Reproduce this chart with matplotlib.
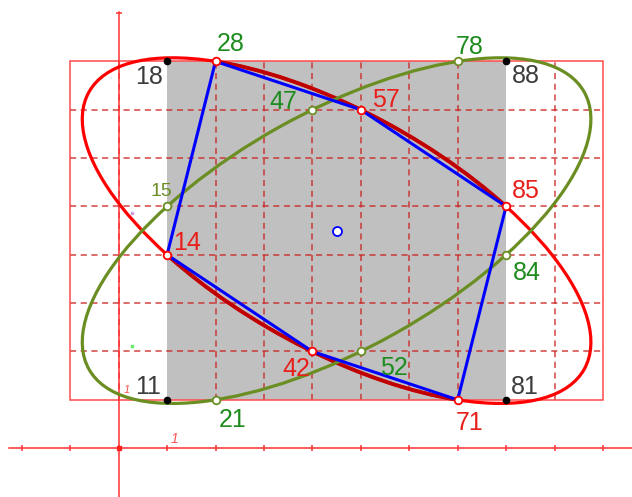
import numpy as np
import matplotlib
matplotlib.use("Agg")
import matplotlib.pyplot as plt
from matplotlib.patches import Rectangle, Ellipse, Arc

# points of the red conic (name, x, y)
red_names = ["28", "57", "85", "71", "42", "14"]
red_x = [2, 5, 8, 7, 4, 1]
red_y = [8, 7, 5, 1, 2, 4]

# points of the green conic
green_names = ["78", "47", "15", "21", "52", "84"]
green_x = [7, 4, 1, 2, 5, 8]
green_y = [8, 7, 5, 1, 2, 4]

# corner points of the grey square
corner_names = ["18", "88", "11", "81"]
corner_x = [1, 8, 1, 8]
corner_y = [8, 8, 1, 1]

# blue hexagon, order of the vertices
hexagon = ["28", "57", "85", "71", "42", "14", "28"]

# label offsets in pixels (dx, dy) and colours
label_off = {
    "18": (-18, -23), "28": (15, 10), "47": (-29, 1), "57": (25, 3),
    "78": (12, 7), "88": (20, -22), "15": (-6, 10), "14": (20, 5),
    "85": (20, 8), "84": (21, -25), "11": (-19, 6), "21": (17, -27),
    "42": (-16, -25), "52": (33, -24), "81": (19, 6), "71": (12, -30),
}
label_col = {n: "#e8201c" for n in red_names}
label_col.update({n: "#1e8c1e" for n in green_names})
label_col.update({n: "#3c3c3c" for n in corner_names})
label_col["28"] = "#1e8c1e"
label_col["15"] = "#6b8e23"

plt.rcParams["font.family"] = ["Liberation Sans", "DejaVu Sans"]

fig = plt.figure(figsize=(6.32, 4.97), dpi=100)
ax = fig.add_axes([0, 0, 1, 1])
ax.set_xlim(-2.45, 10.6)
ax.set_ylim(-1.01, 9.27)
ax.axis("off")

# grey square and grid
ax.add_patch(Rectangle((1, 1), 7, 7, facecolor="#c0c0c0", edgecolor="none", zorder=1))
dash = (0, (4, 3))
for gx in [0, 2, 3, 4, 5, 6, 7, 9]:
    ax.plot([gx, gx], [1, 8], color="#cc2222", alpha=0.85, lw=1.1, ls=dash, zorder=2)
for gy in [2, 3, 4, 5, 6, 7]:
    ax.plot([-1, 10], [gy, gy], color="#cc2222", alpha=0.85, lw=1.1, ls=dash, zorder=2)
ax.add_patch(Rectangle((-1, 1), 11, 7, facecolor="none", edgecolor="#ff4a4a", lw=1.1, zorder=2))

# coordinate axes
ax.plot([-2.26, 10.6], [0, 0], color="#ff3030", lw=1.1, zorder=2)
ax.plot([0, 0], [-1.01, 9.02], color="#ff3030", lw=1.1, zorder=2)
ticks_x = np.arange(-2, 11)
ax.plot(ticks_x, np.zeros_like(ticks_x), ls="none", marker="|", ms=5, mew=1.1, color="#ff3030", zorder=2)
ax.plot([0], [9], ls="none", marker="_", ms=5, mew=1.1, color="#ff3030", zorder=2)
ax.plot([0], [0], ls="none", marker="s", ms=3, color="#ff2020", zorder=2)
ax.text(1.08, 0.05, "1", color="#ff5050", fontsize=10, style="italic", ha="left", va="bottom")
ax.text(0.1, 1.1, "1", color="#ff5050", fontsize=8, style="italic", ha="left", va="bottom")


def conic(xs, ys):
    pts = np.column_stack([xs, ys]).astype(float)
    c = pts.mean(axis=0)
    u = pts - c
    A = np.column_stack([u[:, 0] ** 2, u[:, 0] * u[:, 1], u[:, 1] ** 2])
    a, b, cc = np.linalg.lstsq(A, np.ones(len(u)), rcond=None)[0]
    w, v = np.linalg.eigh(np.array([[a, b / 2], [b / 2, cc]]))
    semi = 1 / np.sqrt(w)
    ang = np.degrees(np.arctan2(v[1, 0], v[0, 0]))
    return c, 2 * semi[0], 2 * semi[1], ang


def theta(p, c, ang):
    r = np.radians(-ang)
    dx, dy = p[0] - c[0], p[1] - c[1]
    lx = dx * np.cos(r) - dy * np.sin(r)
    ly = dx * np.sin(r) + dy * np.cos(r)
    return np.degrees(np.arctan2(ly, lx))


rc, rw, rh, ra = conic(red_x, red_y)
gc, gw, gh, ga = conic(green_x, green_y)
ax.add_patch(Ellipse(rc, rw, rh, angle=ra, fill=False, ec="#ff0000", lw=2.3, zorder=3))
ax.add_patch(Ellipse(gc, gw, gh, angle=ga, fill=False, ec="#6b8e23", lw=2.3, zorder=3.2))

rp = {n: (x, y) for n, x, y in zip(red_names, red_x, red_y)}
for a_name, b_name in [("85", "28"), ("14", "71")]:
    t1 = theta(rp[a_name], rc, ra)
    t2 = theta(rp[b_name], rc, ra)
    if t2 < t1:
        t2 += 360
    ax.add_patch(Arc(rc, rw, rh, angle=ra, theta1=t1, theta2=t2, ec="#c00000", lw=2.8, zorder=3.1))

# blue hexagon
ax.plot([rp[n][0] for n in hexagon], [rp[n][1] for n in hexagon], color="#0000ff", lw=2.2, zorder=4)

# points
ax.plot(red_x, red_y, ls="none", marker="o", ms=5.5, mfc="white", mec="#ff0000", mew=1.3, zorder=5)
ax.plot(green_x, green_y, ls="none", marker="o", ms=5.5, mfc="white", mec="#6b8e23", mew=1.3, zorder=5)
ax.plot(corner_x, corner_y, ls="none", marker="o", ms=4.5, color="black", zorder=5)
ax.plot([rc[0]], [rc[1]], ls="none", marker="o", ms=6.5, mfc="white", mec="#0000ff", mew=1.3, zorder=5)
ax.plot([0.28], [2.11], ls="none", marker="s", ms=2, color="#66ee66", zorder=5)
ax.plot([0.28], [4.86], ls="none", marker="s", ms=2, color="#cc99dd", zorder=5)

# labels
all_pts = list(zip(red_names, red_x, red_y)) + list(zip(green_names, green_x, green_y)) + \
    list(zip(corner_names, corner_x, corner_y))
for name, x, y in all_pts:
    dx, dy = label_off[name]
    ax.annotate(name, (x, y), xytext=(dx, dy), textcoords="offset pixels",
                ha="center", va="baseline", color=label_col[name],
                fontsize=14 if name == "15" else 18, zorder=6)

fig.savefig("out.png", dpi=100)
